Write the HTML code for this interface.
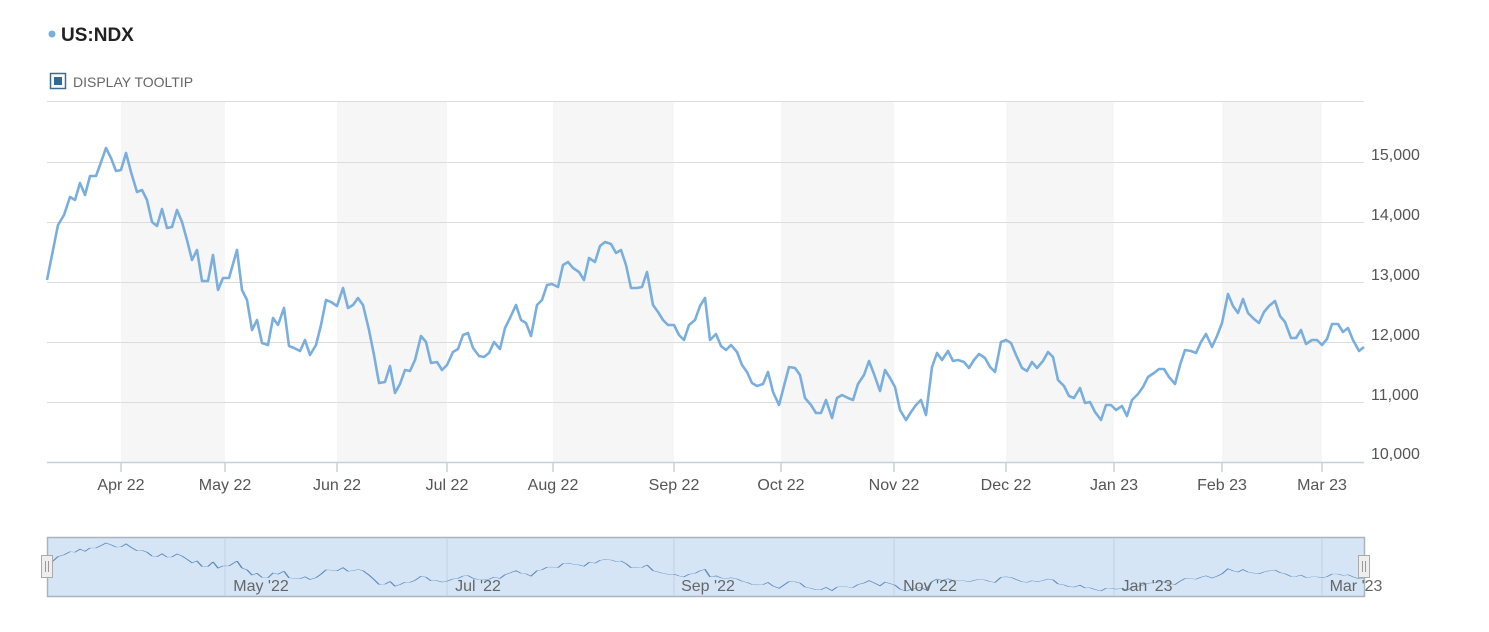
<!DOCTYPE html>
<html><head><meta charset="utf-8"><style>
body{margin:0;background:#fff;width:1489px;height:627px;overflow:hidden;font-family:"Liberation Sans",sans-serif}
</style></head><body>
<svg width="1489" height="627" viewBox="0 0 1489 627" xmlns="http://www.w3.org/2000/svg" font-family="Liberation Sans, sans-serif">
<circle cx="52" cy="34" r="3.5" fill="#7aaedc"/>
<text x="61" y="41" font-size="19" font-weight="bold" fill="#222">US:NDX</text>
<rect x="50.5" y="73.5" width="15" height="15" fill="#fff" stroke="#3a6d91" stroke-width="1.5"/>
<rect x="54" y="77" width="8" height="8" fill="#2e6a9a"/>
<text x="73" y="87" font-size="14" fill="#666">DISPLAY TOOLTIP</text>
<g fill="#f6f6f6">
<rect x="121" y="101" width="104" height="361"/><rect x="337" y="101" width="110" height="361"/>
<rect x="553" y="101" width="121" height="361"/><rect x="781" y="101" width="113" height="361"/>
<rect x="1006" y="101" width="108" height="361"/><rect x="1222" y="101" width="100" height="361"/>
</g>
<g stroke="#dcdcdc" stroke-width="1">
<line x1="47" x2="1364" y1="101.5" y2="101.5"/><line x1="47" x2="1364" y1="162.5" y2="162.5"/>
<line x1="47" x2="1364" y1="222.5" y2="222.5"/><line x1="47" x2="1364" y1="282.5" y2="282.5"/>
<line x1="47" x2="1364" y1="342.5" y2="342.5"/><line x1="47" x2="1364" y1="402.5" y2="402.5"/>
</g>
<line x1="47" x2="1364" y1="462.5" y2="462.5" stroke="#c6d0dc" stroke-width="1.5"/>
<g stroke="#c6d0dc" stroke-width="1.5">
<line x1="121" x2="121" y1="462" y2="472"/><line x1="225" x2="225" y1="462" y2="472"/><line x1="337" x2="337" y1="462" y2="472"/><line x1="447" x2="447" y1="462" y2="472"/><line x1="553" x2="553" y1="462" y2="472"/><line x1="674" x2="674" y1="462" y2="472"/><line x1="781" x2="781" y1="462" y2="472"/><line x1="894" x2="894" y1="462" y2="472"/><line x1="1006" x2="1006" y1="462" y2="472"/><line x1="1114" x2="1114" y1="462" y2="472"/><line x1="1222" x2="1222" y1="462" y2="472"/><line x1="1322" x2="1322" y1="462" y2="472"/>
</g>
<g font-size="16" fill="#555" text-anchor="middle">
<text x="121" y="490">Apr 22</text><text x="225" y="490">May 22</text><text x="337" y="490">Jun 22</text><text x="447" y="490">Jul 22</text><text x="553" y="490">Aug 22</text><text x="674" y="490">Sep 22</text><text x="781" y="490">Oct 22</text><text x="894" y="490">Nov 22</text><text x="1006" y="490">Dec 22</text><text x="1114" y="490">Jan 23</text><text x="1222" y="490">Feb 23</text><text x="1322" y="490">Mar 23</text>
</g>
<g font-size="16" fill="#555">
<text x="1371" y="160">15,000</text><text x="1371" y="220">14,000</text><text x="1371" y="280">13,000</text><text x="1371" y="340">12,000</text><text x="1371" y="400">11,000</text><text x="1371" y="459">10,000</text>
</g>
<defs>
<polyline id="ln" fill="none" points="47,280 58,225 64,215 70,197 75,200 80,183 85,195 90,176 96,176 100,165 106,148 111,158 116,171 121,170 126,153 131,172 137,192 142,190 147,200 152,222 157,226 162,209 167,228 172,227 177,210 182,222 187,240 192,260 197,250 202,281 208,281 213,255 218,290 223,278 229,278 237,250 242,290 247,300 252,330 257,320 262,343 268,345 273,318 278,325 284,308 289,346 294,348 300,351 305,340 310,355 316,345 321,325 326,300 331,302 337,306 343,288 348,308 353,305 358,298 363,305 369,330 374,355 379,383 385,382 390,366 395,393 400,384 405,370 410,371 415,360 421,336 426,342 431,363 437,362 442,370 447,365 453,352 458,349 463,335 468,333 473,348 479,356 484,357 489,353 494,342 500,349 505,328 510,318 516,305 521,320 526,323 531,336 537,305 542,300 547,285 552,284 558,287 563,265 568,262 573,268 579,272 584,280 589,258 595,262 600,246 605,242 611,244 616,253 621,250 626,265 631,288 637,288 642,287 647,272 653,305 658,312 663,320 668,325 674,325 679,335 684,340 689,325 695,320 700,306 705,298 710,340 716,334 721,346 726,350 731,345 737,352 742,365 747,372 752,383 757,386 763,384 768,372 773,392 779,405 784,386 789,367 795,368 800,375 805,398 811,405 816,413 821,413 826,400 832,418 837,398 842,395 848,398 853,400 858,384 864,375 869,361 874,374 880,391 885,370 890,378 895,387 900,410 906,420 911,412 916,405 921,400 926,415 932,367 937,353 942,360 948,351 953,361 958,360 964,362 969,368 974,360 979,354 985,358 990,367 995,372 1001,342 1006,340 1011,343 1016,355 1022,368 1027,371 1032,362 1037,368 1043,361 1048,352 1053,357 1058,380 1064,386 1069,396 1074,398 1080,388 1085,403 1090,402 1095,412 1101,420 1106,405 1111,405 1116,410 1122,406 1127,416 1132,400 1138,394 1143,387 1148,377 1154,373 1159,369 1164,369 1169,377 1175,384 1180,365 1185,350 1191,351 1196,353 1201,342 1206,334 1212,347 1217,336 1222,323 1228,294 1233,306 1238,313 1243,299 1248,313 1254,319 1259,323 1264,312 1269,306 1275,301 1280,316 1285,322 1291,338 1296,338 1301,330 1306,344 1312,340 1317,340 1322,345 1327,339 1332,324 1338,324 1343,332 1348,328 1353,340 1359,351 1364,347"/>
</defs>
<use href="#ln" stroke="#7aaedc" stroke-width="2.6" stroke-linejoin="round"/>
<rect x="47.5" y="537.5" width="1317" height="59" fill="#d5e5f6" stroke="#aab4c0" stroke-width="1.5"/>
<g stroke="#c4d0dc" stroke-width="1">
<line x1="225" x2="225" y1="538" y2="596"/><line x1="447" x2="447" y1="538" y2="596"/><line x1="674" x2="674" y1="538" y2="596"/><line x1="894" x2="894" y1="538" y2="596"/><line x1="1114" x2="1114" y1="538" y2="596"/><line x1="1322" x2="1322" y1="538" y2="596"/>
</g>
<g transform="translate(0,517) scale(1,0.176)">
<use href="#ln" stroke="#5a8cc0" stroke-width="1.7" vector-effect="non-scaling-stroke"/>
</g>
<g font-size="16" fill="#666" text-anchor="middle">
<text x="261" y="591">May '22</text><text x="478" y="591">Jul '22</text><text x="708" y="591">Sep '22</text><text x="930" y="591">Nov '22</text><text x="1147" y="591">Jan '23</text><text x="1356" y="591">Mar '23</text>
</g>
<g fill="#eee" stroke="#aaa">
<rect x="41.5" y="555.5" width="11" height="22"/><rect x="1358.5" y="555.5" width="11" height="22"/>
</g>
<g stroke="#999"><line x1="45.5" x2="45.5" y1="561" y2="572"/><line x1="48.5" x2="48.5" y1="561" y2="572"/><line x1="1362.5" x2="1362.5" y1="561" y2="572"/><line x1="1365.5" x2="1365.5" y1="561" y2="572"/></g>
</svg>
</body></html>
